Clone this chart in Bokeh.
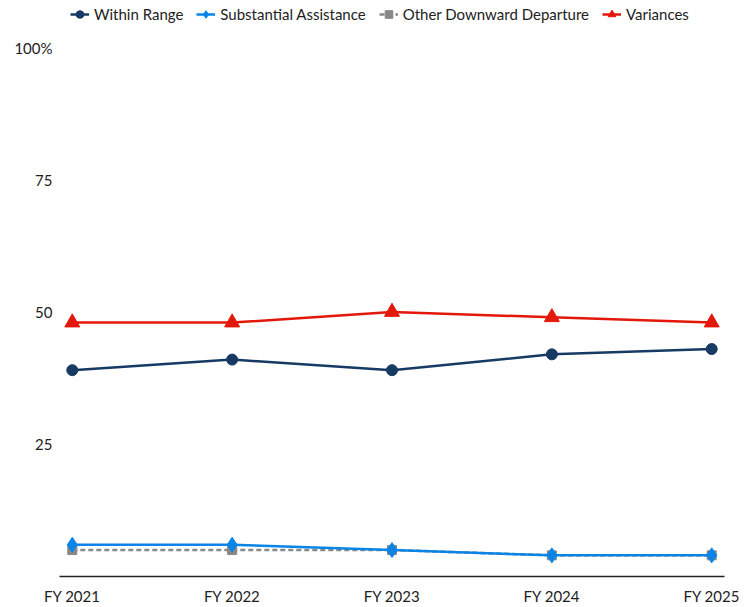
from bokeh.plotting import figure
from bokeh.layouts import column
from bokeh.models import Range1d, FixedTicker, Legend, LegendItem
from bokeh.embed import file_html
from bokeh.resources import INLINE

categories = ["FY 2021", "FY 2022", "FY 2023", "FY 2024", "FY 2025"]
within_range = [39, 41, 39, 42, 43]
substantial_assistance = [6, 6, 5, 4, 4]
other_downward = [5, 5, 5, 4, 4]
variances = [48, 48, 50, 49, 48]
y_ticks = [0, 25, 50, 75, 100]
y_tick_labels = ["", "25", "50", "75", "100%"]
series_names = ["Within Range", "Substantial Assistance", "Other Downward Departure", "Variances"]

xs = list(range(len(categories)))
FONT = "Lato"
TEXT = "#222222"

c_wr = "#163a63"
c_sa = "#0a84e6"
c_od = "#888888"
c_v = "#e3170a"

styles = {
    "Within Range": dict(color=c_wr, marker="circle", size=11, dash="solid"),
    "Substantial Assistance": dict(color=c_sa, marker="diamond", size=15, dash="solid"),
    "Other Downward Departure": dict(color=c_od, marker="square", size=9, dash="5 3"),
    "Variances": dict(color=c_v, marker="triangle", size=15, dash="solid"),
}
data = {
    "Within Range": within_range,
    "Substantial Assistance": substantial_assistance,
    "Other Downward Departure": other_downward,
    "Variances": variances,
}

# ---- main chart ----
p = figure(width=751, height=577, output_backend="svg", toolbar_location=None,
           x_range=Range1d(-0.08, len(categories) - 1 + 0.08),
           y_range=Range1d(0, 100),
           min_border_left=59, min_border_right=27, min_border_top=17, min_border_bottom=28)
p.outline_line_color = None
p.background_fill_color = "white"
p.border_fill_color = "white"
p.grid.visible = False

draw_order = ["Other Downward Departure", "Within Range", "Substantial Assistance", "Variances"]
for name in draw_order:
    s = styles[name]
    p.line(xs, data[name], line_color=s["color"], line_width=2.5, line_dash=s["dash"])
    p.scatter(xs, data[name], marker=s["marker"], size=s["size"],
              fill_color=s["color"], line_color=s["color"])

xa = p.xaxis[0]
xa.ticker = FixedTicker(ticks=xs)
xa.major_label_overrides = {i: c for i, c in enumerate(categories)}
xa.axis_line_color = TEXT
xa.axis_line_width = 1.5
xa.major_tick_line_color = None
xa.minor_tick_line_color = None
xa.major_tick_out = 0
xa.major_tick_in = 0
xa.major_label_standoff = 10
xa.major_label_text_font = FONT
xa.major_label_text_font_size = "15px"
xa.major_label_text_color = TEXT

ya = p.yaxis[0]
ya.ticker = FixedTicker(ticks=y_ticks)
ya.major_label_overrides = {t: l for t, l in zip(y_ticks, y_tick_labels)}
ya.axis_line_color = None
ya.major_tick_line_color = None
ya.minor_tick_line_color = None
ya.major_tick_out = 0
ya.major_tick_in = 0
ya.major_label_standoff = 7
ya.major_label_text_font = FONT
ya.major_label_text_font_size = "15px"
ya.major_label_text_color = TEXT

# ---- legend strip (same series, drawn out of view; only its legend shows) ----
lg = figure(width=751, height=30, output_backend="svg", toolbar_location=None,
            x_axis_location=None, y_axis_location=None,
            x_range=Range1d(-0.08, len(categories) - 1 + 0.08),
            y_range=Range1d(1000, 1001),
            min_border_left=0, min_border_right=0, min_border_top=0, min_border_bottom=0)
lg.grid.visible = False
lg.outline_line_color = None
lg.border_fill_color = "white"
lg.background_fill_color = "white"

items = []
for name in series_names:
    s = styles[name]
    r_line = lg.line(xs, data[name], line_color=s["color"], line_width=2.5, line_dash=s["dash"])
    r_mark = lg.scatter(xs, data[name], marker=s["marker"], size=s["size"],
                        fill_color=s["color"], line_color=s["color"])
    items.append(LegendItem(label=name, renderers=[r_line, r_mark]))

legend = Legend(items=items, orientation="horizontal", location=(11, 6))
legend.border_line_color = None
legend.background_fill_alpha = 0
legend.padding = 0
legend.margin = 0
legend.spacing = 13
legend.glyph_width = 19
legend.glyph_height = 20
legend.label_height = 20
legend.label_standoff = 5
legend.label_text_font = FONT
legend.label_text_font_size = "15px"
legend.label_text_color = TEXT
lg.add_layout(legend, "center")

layout = column(lg, p, spacing=0)
open("out.html", "w").write(file_html(layout, INLINE))
